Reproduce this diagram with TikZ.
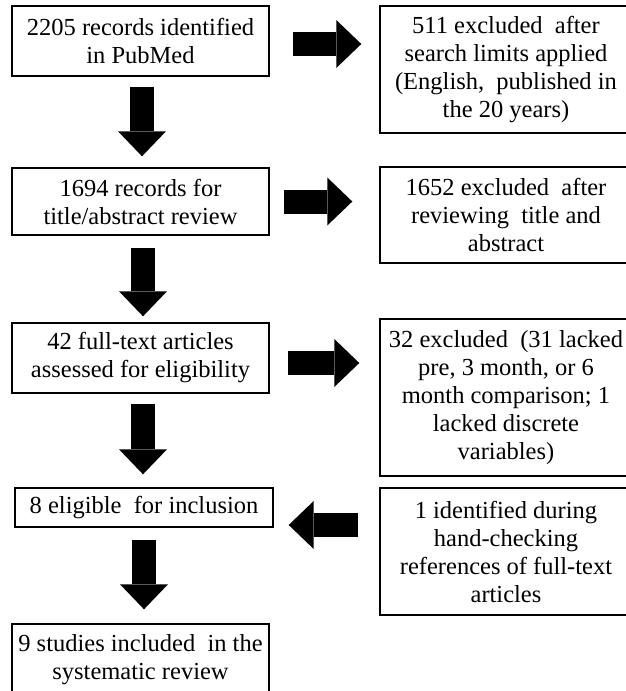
\documentclass[tikz,border=0pt]{standalone}
\usepackage{fontspec}
\setmainfont{Liberation Serif}
\usetikzlibrary{arrows.meta,calc}
\tikzset{
  box/.style={draw=black, line width=1.4pt, fill=white, inner sep=0pt, align=center,
    font=\fontsize{24.5pt}{28pt}\selectfont},
  blk/.style={line width=24pt, draw=black,
    -{Triangle[length=25pt,width=48pt,line width=0pt]}}
}
\begin{document}
\begin{tikzpicture}[x=1pt,y=-1pt]
\useasboundingbox (0,0) rectangle (626,691);
% left column
\node[box, minimum width=257pt, minimum height=70pt] (b1) at (140.5,41)
  {2205 records identified\\in PubMed};
\node[box, minimum width=257pt, minimum height=67pt] (b2) at (140.5,201.5)
  {1694 records for\\title/abstract review};
\node[box, minimum width=257pt, minimum height=70pt] (b3) at (140.5,358)
  {42 full-text articles\\assessed for eligibility};
\node[box, minimum width=258pt, minimum height=39pt] (b4) at (144,507.5)
  {8 eligible\ \ for inclusion};
\node[box, minimum width=257pt, minimum height=71pt] (b5) at (140.5,659.5)
  {9 studies included\ \ in the\\systematic review};
% right column
\node[box, minimum width=252pt, minimum height=127pt] (r1) at (506,69.5)
  {511 excluded\ \ after\\search limits applied\\(English,\ \ published in\\the 20 years)};
\node[box, minimum width=252pt, minimum height=96pt] (r2) at (506,215)
  {1652 excluded\ \ after\\reviewing\ \ title and\\abstract};
\node[box, minimum width=252pt, minimum height=157pt] (r3) at (506,397.5)
  {32 excluded\ \ (31 lacked\\pre, 3 month, or 6\\month comparison; 1\\lacked discrete\\variables)};
\node[box, minimum width=252pt, minimum height=127pt] (r4) at (506,551.5)
  {1 identified during\\hand-checking\\references of full-text\\articles};
% down arrows
\draw[blk] ($(b1.south)+(1.5,10)$) -- ($(b2.north)+(1.5,-11)$);
\draw[blk] ($(b2.south)+(2.5,12)$) -- ($(b3.north)+(2.5,-6)$);
\draw[blk] ($(b3.south)+(2.5,10)$) -- ($(b4.north)+(-1,-13)$);
\draw[blk] ($(b4.south)+(0,12)$) -- ($(b5.north)+(3.5,-14)$);
% right arrows
\draw[blk] ($(b1.east)+(23,3)$) -- ($(b1.east -| r1.west)+(-18,3)$);
\draw[blk] ($(b2.east)+(14,0)$) -- ($(b2.east -| r2.west)+(-27,0)$);
\draw[blk] ($(b3.east)+(18,5)$) -- ($(b3.east -| r3.west)+(-20,5)$);
% left arrow
\draw[blk] ($(b4.east -| r4.west)+(-21,17.5)$) -- ($(b4.east)+(15,17.5)$);
\end{tikzpicture}
\end{document}
